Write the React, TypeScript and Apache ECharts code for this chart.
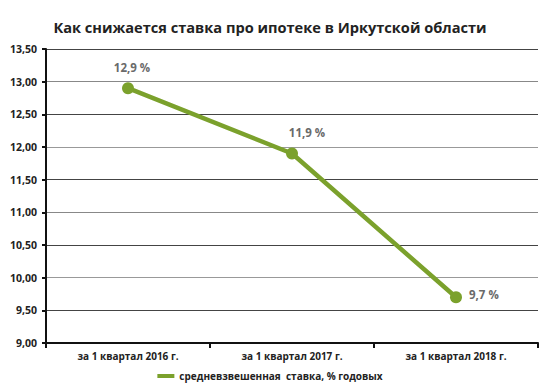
import React, { useEffect, useRef } from "react";
import * as echarts from "echarts";

const title = "Как снижается ставка про ипотеке в Иркутской области";
const categories = ["за 1 квартал 2016 г.", "за 1 квартал 2017 г.", "за 1 квартал 2018 г."];
const seriesName = "средневзвешенная  ставка, % годовых";
const values = [12.9, 11.9, 9.7];
const valueLabels = ["12,9 %", "11,9 %", "9,7 %"];
const yMin = 9;
const yMax = 13.5;
const yInterval = 0.5;

const FONT = "'Open Sans', sans-serif";
const GREEN = "#7ba12c";

export default function App() {
  const ref = useRef<HTMLDivElement>(null);
  useEffect(() => {
    if (!ref.current) return;
    const chart = echarts.init(ref.current, null, { renderer: "svg" });
    const labelPos: any[] = [
      { position: "top", offset: [4, -4] },
      { position: "top", offset: [15, -4] },
      { position: "right", offset: [2, -3] },
    ];
    chart.setOption({
      animation: false,
      backgroundColor: "#ffffff",
      title: {
        text: title,
        left: "center",
        top: 14,
        textStyle: { fontFamily: FONT, fontWeight: "bold", fontSize: 14.6, color: "#222" },
      },
      legend: {
        bottom: 0,
        left: "center",
        icon: "rect",
        itemWidth: 17,
        itemHeight: 4,
        itemGap: 4,
        textStyle: { fontFamily: FONT, fontWeight: "bold", fontSize: 10, color: "#222" },
        data: [seriesName],
      },
      grid: { left: 46, right: 2, top: 49, bottom: 43, containLabel: false },
      xAxis: {
        type: "category",
        data: categories,
        boundaryGap: true,
        axisLine: { lineStyle: { color: "#111", width: 2 } },
        axisTick: { show: true, length: 5, lineStyle: { color: "#111", width: 2 } },
        axisLabel: { fontFamily: FONT, fontWeight: "bold", fontSize: 10, color: "#222", margin: 8 },
        splitLine: { show: false },
      },
      yAxis: {
        type: "value",
        min: yMin,
        max: yMax,
        interval: yInterval,
        axisLine: { show: true, lineStyle: { color: "#111", width: 2 } },
        axisTick: { show: true, length: 4, lineStyle: { color: "#111", width: 2 } },
        axisLabel: {
          fontFamily: FONT,
          fontWeight: "bold",
          fontSize: 10.5,
          color: "#222",
          margin: 9,
          formatter: (v: number) => v.toFixed(2).replace(".", ","),
        },
        splitLine: { show: true, lineStyle: { color: ["#888", "#444", "#999", "#444"], width: 1 } },
      },
      series: [
        {
          name: seriesName,
          type: "line",
          data: values.map((v, i) => ({
            value: v,
            label: {
              show: true,
              formatter: valueLabels[i],
              ...labelPos[i],
              fontFamily: FONT,
              fontWeight: "bold",
              fontSize: 11.5,
              color: "#6a6a6a",
            },
          })),
          symbol: "circle",
          symbolSize: 12,
          lineStyle: { color: GREEN, width: 4.5 },
          itemStyle: { color: GREEN },
        },
      ],
    });
    return () => chart.dispose();
  }, []);
  return (
    <div
      ref={ref}
      style={{ position: "fixed", left: 0, top: 0, width: 540, height: 386, background: "#fff" }}
    />
  );
}
